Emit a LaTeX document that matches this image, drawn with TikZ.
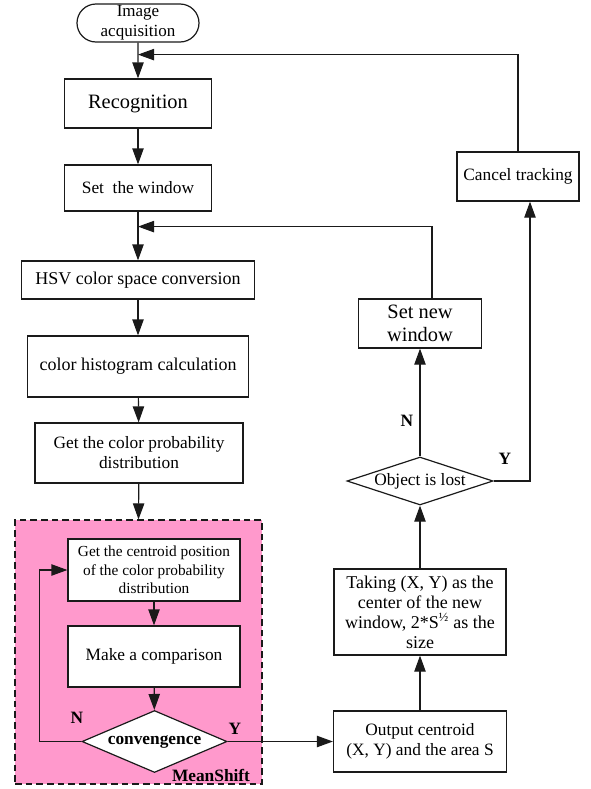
\documentclass[tikz,border=0pt]{standalone}
\usepackage{fontspec}
\setmainfont{Liberation Serif}
\usetikzlibrary{arrows.meta,shapes.geometric,shapes.misc,calc}
\definecolor{ink}{HTML}{1A1A1A}
\definecolor{mspink}{HTML}{FF99CC}
\tikzset{
  box/.style={draw=ink,fill=white,line width=0.9pt,align=center,
              inner sep=1pt,font=\fontsize{13}{15}\selectfont},
  bigbox/.style={box,font=\fontsize{15.3}{17.5}\selectfont},
  smallbox/.style={box,font=\fontsize{11.5}{14}\selectfont},
  termbox/.style={box,rounded rectangle,inner sep=0pt,
                  font=\fontsize{12.75}{15}\selectfont},
  decision/.style={draw=ink,fill=white,line width=0.9pt,diamond,
                   inner sep=0pt,font=\fontsize{13}{15}\selectfont},
  msregion/.style={draw=ink,fill=mspink,line width=0.9pt,
                   dash pattern=on 5pt off 3pt},
  flow/.style={-{Triangle[length=12pt,width=8.5pt]},line width=0.9pt,
               draw=ink},
  ynlabel/.style={font=\bfseries\fontsize{13}{15}\selectfont,inner sep=0pt}
}
\begin{document}
\begin{tikzpicture}[x=0.75pt,y=-0.75pt]
    \path[use as bounding box] (0,0) rectangle (591,789);
    % left column
    \node[termbox,minimum width=91.5pt,minimum height=28.5pt] (acq) at (138,23)
      {Image\\acquisition};
    \node[bigbox,minimum width=110.25pt,minimum height=36.75pt] (recog) at (138,103.5)
      {Recognition};
    \node[box,minimum width=110.25pt,minimum height=34.5pt] (setwin) at (138,188)
      {Set~ the window};
    \node[box,minimum width=174.75pt,minimum height=28.5pt,
          font=\fontsize{13.5}{15}\selectfont] (hsv) at (138,280)
      {HSV color space conversion};
    \node[box,minimum width=165.75pt,minimum height=45.75pt,
          font=\fontsize{13.5}{15}\selectfont] (hist) at (138,366.5)
      {color histogram calculation};
    \node[box,minimum width=156pt,minimum height=45pt] (prob) at (139,453)
      {Get the color probability\\distribution};
    % MeanShift part
    \node[msregion,minimum width=185.25pt,minimum height=198pt] (ms) at (138.5,652) {};
    \node[smallbox,minimum width=129pt,minimum height=46.5pt] (centroid) at (154,570)
      {Get the centroid position\\of the color probability\\distribution};
    \node[box,minimum width=129pt,minimum height=45.75pt] (compare) at (154,656.5)
      {Make a comparison};
    \node[decision,shape aspect=2.34,minimum width=108.75pt,minimum height=46.5pt,
          font=\bfseries\fontsize{13}{15}\selectfont] (conv) at (154.5,741.5)
      {convengence};
    \node[ynlabel] (mslabel) at (211,775) {MeanShift};
    % right column
    \node[box,minimum width=129.75pt,minimum height=45.75pt] (output) at (420,741.5)
      {Output centroid\\(X, Y) and the area S};
    \node[box,minimum width=129pt,minimum height=64.5pt,
          font=\fontsize{13.5}{15}\selectfont] (taking) at (420,612)
      {Taking (X, Y) as the\\center of the new\\window, 2*S\textsuperscript{½} as the\\size};
    \node[decision,shape aspect=3.04,minimum width=109.5pt,minimum height=36pt] (lost) at (420,481)
      {Object is lost};
    \node[bigbox,minimum width=92.25pt,minimum height=36.75pt] (setnew) at (420,323.5)
      {Set new\\window};
    \node[box,minimum width=91.5pt,minimum height=36.75pt] (cancel) at (518,176.5)
      {Cancel tracking};
    \coordinate (j1) at ($(acq.south)+(0,12)$);
    \coordinate (j2) at ($(setwin.south)+(0,15)$);
    % connectors
    \draw[flow] (acq) -- (recog);
    \draw[flow] (recog) -- (setwin);
    \draw[flow] (setwin) -- (hsv);
    \draw[flow] (hsv) -- (hist);
    \draw[flow] (hist) -- (prob);
    \draw[flow] (prob) -- (ms.north);
    \draw[flow] (centroid) -- (compare);
    \draw[flow] (compare) -- (conv);
    \draw[flow] (conv.west) -- ++(-42,0) |- (centroid.west);
    \draw[flow] (conv.east) -- (output.west);
    \draw[flow] (output) -- (taking);
    \draw[flow] (taking) -- (lost);
    \draw[flow] (lost) -- (setnew);
    \draw[flow] (lost.east) -| ($(cancel.south)+(12,0)$);
    \draw[flow] ($(setnew.north)+(12,0)$) |- (j2);
    \draw[flow] (cancel.north) |- (j1);
    % branch labels
    \node[ynlabel] (n1) at (77,718) {N};
    \node[ynlabel] (y1) at (235,729) {Y};
    \node[ynlabel] (n2) at (407,421) {N};
    \node[ynlabel] (y2) at (505,459) {Y};
  \end{tikzpicture}
\end{document}
